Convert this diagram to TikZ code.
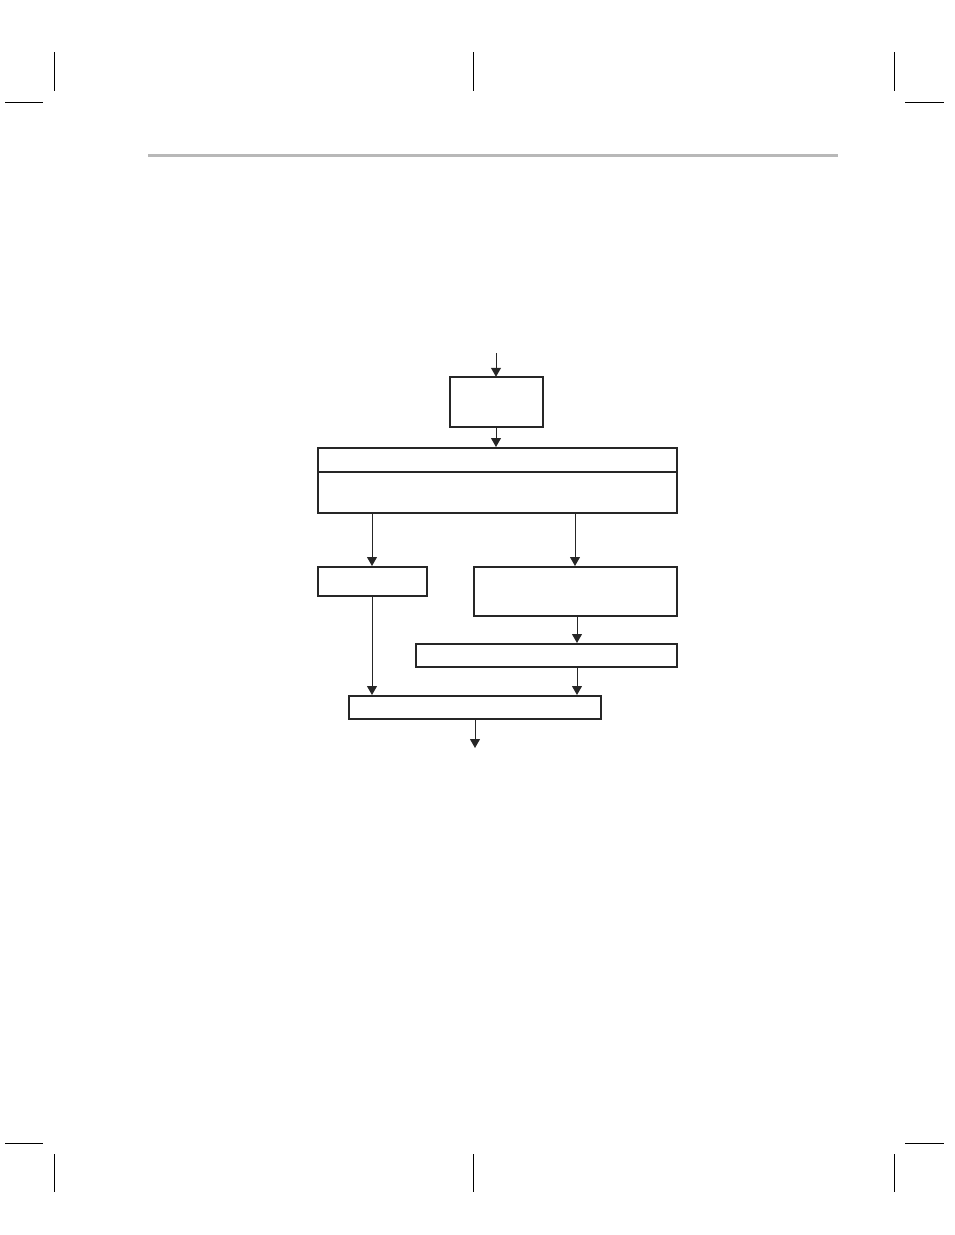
\documentclass[tikz,border=0pt]{standalone}
\usetikzlibrary{arrows.meta}
\begin{document}
\begin{tikzpicture}[x=1pt,y=-1pt,
  box/.style={draw=black!85,line width=2pt},
  conn/.style={draw=black!85,line width=1pt,-{Triangle[width=10pt,length=9pt]}},
  crop/.style={draw=black,line width=1pt}]
\useasboundingbox (0,0) rectangle (954,1235);
% crop marks
\draw[crop] (54,52) -- (54,91);
\draw[crop] (473,52) -- (473,91);
\draw[crop] (894,52) -- (894,91);
\draw[crop] (5,102) -- (43,102);
\draw[crop] (905,102) -- (944,102);
\draw[crop] (5,1143) -- (43,1143);
\draw[crop] (905,1143) -- (944,1143);
\draw[crop] (54,1154) -- (54,1192);
\draw[crop] (473,1154) -- (473,1192);
\draw[crop] (894,1154) -- (894,1192);
% header rule
\draw[line width=3pt,color=black!28] (148,155) -- (838,155);
% boxes
\path[box] (450,377) rectangle (543,427) coordinate (Aend);
\node[inner sep=0pt,minimum width=93pt,minimum height=50pt] (A) at (496.5,402) {};
\node[box,inner sep=0pt,minimum width=359pt,minimum height=65pt] (B) at (497.5,480.5) {};
\draw[box] (318,472) -- (677,472);
\node[box,inner sep=0pt,minimum width=109pt,minimum height=29pt] (C) at (372.5,581.5) {};
\node[box,inner sep=0pt,minimum width=203pt,minimum height=49pt] (D) at (575.5,591.5) {};
\node[box,inner sep=0pt,minimum width=261pt,minimum height=23pt] (E) at (546.5,655.5) {};
\node[box,inner sep=0pt,minimum width=252pt,minimum height=23pt] (F) at (475,707.5) {};
% connectors
\coordinate (in) at (496,353);
\coordinate (out) at (475,748);
\draw[conn] (in) -- (in |- A.north);
\draw[conn] (496,0 |- A.south) -- (496,0 |- B.north);
\draw[conn] (372,0 |- B.south) -- (372,0 |- C.north);
\draw[conn] (575,0 |- B.south) -- (575,0 |- D.north);
\draw[conn] (577,0 |- D.south) -- (577,0 |- E.north);
\draw[conn] (372,0 |- C.south) -- (372,0 |- F.north);
\draw[conn] (577,0 |- E.south) -- (577,0 |- F.north);
\draw[conn] (F.south) -- (out);
\end{tikzpicture}
\end{document}
